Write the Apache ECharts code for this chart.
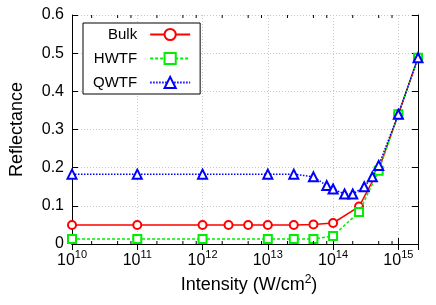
<!DOCTYPE html>
<html>
<head>
<meta charset="utf-8">
<script src="https://cdn.jsdelivr.net/npm/echarts@6/dist/echarts.min.js"></script>
<style>
html,body{margin:0;padding:0;background:#fff;}
#chart{width:436px;height:305px;}
</style>
</head>
<body>
<div id="chart"></div>
<script>
const intensityBulk = [1e10, 1e11, 1e12, 2.5e12, 5e12, 1e13, 2.5e13, 5e13, 1e14, 2.5e14, 5e14, 1e15, 2e15];
const bulk = [0.05, 0.05, 0.05, 0.05, 0.05, 0.05, 0.05, 0.051, 0.055, 0.098, 0.195, 0.34, 0.488];
const intensityHWTF = [1e10, 1e11, 1e12, 1e13, 2.5e13, 5e13, 1e14, 2.5e14, 5e14, 1e15, 2e15];
const hwtf = [0.013, 0.013, 0.013, 0.013, 0.013, 0.013, 0.021, 0.084, 0.192, 0.34, 0.488];
const intensityQWTF = [1e10, 1e11, 1e12, 1e13, 2.5e13, 5e13, 8e13, 1e14, 1.5e14, 2e14, 3e14, 4e14, 5e14, 1e15, 2e15];
const qwtf = [0.183, 0.183, 0.183, 0.183, 0.183, 0.176, 0.153, 0.144, 0.131, 0.131, 0.15, 0.176, 0.206, 0.34, 0.488];
const seriesNames = ['Bulk', 'HWTF', 'QWTF'];
const minorTickValues = [2e10, 5e10, 8e10, 2e11, 5e11, 8e11, 2e12, 5e12, 8e12, 2e13, 5e13, 8e13, 2e14, 5e14, 8e14];

const FONT = '"Liberation Sans", Arial, Helvetica, sans-serif';
const zip = (xs, ys) => xs.map((x, i) => [x, ys[i]]);

const chart = echarts.init(document.getElementById('chart'), null, {renderer: 'canvas'});

function xLabel(v) {
  const l = Math.log10(v);
  const e = Math.round(l);
  if (Math.abs(l - e) > 1e-6) return '';
  return '{b|10}{s|' + e + '}';
}

const axisLineStyle = {color: '#000', width: 1};
const gridLineStyle = {color: '#c8c8c8', width: 1, type: [1, 2]};

const option = {
  backgroundColor: '#fff',
  animation: false,
  grid: {left: 72, right: 18, top: 15, bottom: 61, containLabel: false},
  legend: {
    data: seriesNames,
    orient: 'vertical',
    align: 'right',
    left: 83,
    top: 23,
    padding: [4, 9, 4, 10],
    itemWidth: 40,
    itemHeight: 14,
    itemGap: 9,
    borderColor: '#000',
    borderWidth: 1,
    backgroundColor: '#fff',
    textStyle: {fontFamily: FONT, fontSize: 15, color: '#000', padding: [0, 8, 0, 0]}
  },
  xAxis: [{
    type: 'log',
    logBase: 10,
    min: 1e10,
    max: 2e15,
    position: 'bottom',
    axisLine: {show: true, lineStyle: axisLineStyle},
    axisTick: {show: true, inside: true, length: 6, lineStyle: {color: '#000'}},
    splitLine: {show: true, lineStyle: gridLineStyle},
    axisLabel: {
      formatter: xLabel,
      margin: 5,
      showMaxLabel: false,
      rich: {
        b: {fontFamily: FONT, fontSize: 16, color: '#000', lineHeight: 24},
        s: {fontFamily: FONT, fontSize: 11, color: '#000', lineHeight: 24, verticalAlign: 'top'}
      }
    },
    name: '{a|Intensity (W/cm}{s|2}{a|)}',
    nameLocation: 'middle',
    nameGap: 30,
    nameTextStyle: {
      padding: [0, 0, 0, 8],
      rich: {
        a: {fontFamily: FONT, fontSize: 18, color: '#000', lineHeight: 22},
        s: {fontFamily: FONT, fontSize: 12, color: '#000', lineHeight: 22, verticalAlign: 'top'}
      }
    }
  }, {
    type: 'log',
    logBase: 10,
    min: 1e10,
    max: 2e15,
    position: 'top',
    axisLine: {show: true, lineStyle: axisLineStyle},
    axisTick: {show: true, inside: true, length: 6, lineStyle: {color: '#000'}},
    splitLine: {show: false},
    axisLabel: {show: false}
  }],
  yAxis: [{
    type: 'value',
    min: 0,
    max: 0.6,
    interval: 0.1,
    position: 'left',
    axisLine: {show: true, lineStyle: axisLineStyle},
    axisTick: {show: true, inside: true, length: 6, lineStyle: {color: '#000'}},
    splitLine: {show: true, lineStyle: gridLineStyle},
    axisLabel: {fontFamily: FONT, fontSize: 16, color: '#000', margin: 8},
    name: 'Reflectance',
    nameLocation: 'middle',
    nameGap: 46,
    nameTextStyle: {fontFamily: FONT, fontSize: 18, color: '#000'}
  }, {
    type: 'value',
    min: 0,
    max: 0.6,
    interval: 0.1,
    position: 'right',
    axisLine: {show: true, lineStyle: axisLineStyle},
    axisTick: {show: true, inside: true, length: 6, lineStyle: {color: '#000'}},
    splitLine: {show: false},
    axisLabel: {show: false}
  }],
  series: [{
    type: 'custom',
    name: 'minorTicks',
    xAxisIndex: 0,
    yAxisIndex: 0,
    silent: true,
    clip: false,
    z: 5,
    data: minorTickValues.map(v => [v, 0]),
    renderItem: function (params, api) {
      const x = api.value(0);
      const b = api.coord([x, 0]);
      const t = api.coord([x, 0.6]);
      return {
        type: 'group',
        children: [
          {type: 'line', shape: {x1: b[0], y1: b[1], x2: b[0], y2: b[1] - 3}, style: {stroke: '#000', lineWidth: 1}},
          {type: 'line', shape: {x1: t[0], y1: t[1], x2: t[0], y2: t[1] + 3}, style: {stroke: '#000', lineWidth: 1}}
        ]
      };
    }
  }, {
    name: 'Bulk',
    type: 'line',
    data: zip(intensityBulk, bulk),
    symbol: 'emptyCircle',
    symbolSize: 8,
    lineStyle: {color: '#ff0000', width: 1.5, type: 'solid'},
    itemStyle: {color: '#ff0000', borderColor: '#ff0000', borderWidth: 1.5},
    z: 2
  }, {
    name: 'HWTF',
    type: 'line',
    data: zip(intensityHWTF, hwtf),
    symbol: 'emptyRect',
    symbolSize: 8,
    lineStyle: {color: '#00ee00', width: 1.5, type: [3, 2]},
    itemStyle: {color: '#00ee00', borderColor: '#00ee00', borderWidth: 1.5},
    z: 3
  }, {
    name: 'QWTF',
    type: 'line',
    data: zip(intensityQWTF, qwtf),
    symbol: 'emptyTriangle',
    symbolSize: 9,
    lineStyle: {color: '#0000ff', width: 1.5, type: [1.5, 1.5]},
    itemStyle: {color: '#0000ff', borderColor: '#0000ff', borderWidth: 2},
    z: 4
  }]
};
chart.setOption(option);
</script>
</body>
</html>
